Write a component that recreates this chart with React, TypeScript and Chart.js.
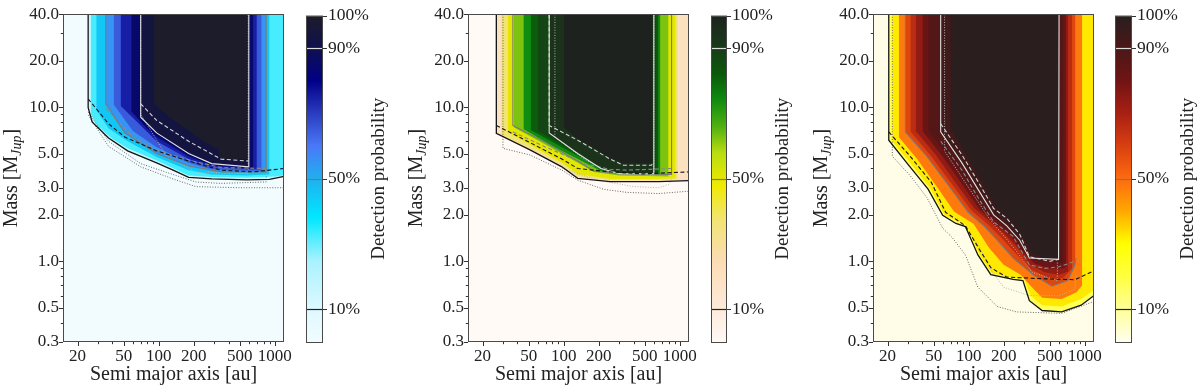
import React, { useEffect, useRef } from 'react';
import { Chart, registerables } from 'chart.js';

Chart.register(...registerables);

type Pt = [number, number];
type Stop = [number, string];

// ---------------- axes ----------------
const xMajorTicks = [20, 50, 100, 200, 500, 1000];
const xMinorTicks = [30, 40, 60, 70, 80, 90, 300, 400, 600, 700, 800, 900];
const yMajorTicks = [0.3, 0.5, 1, 2, 3, 5, 10, 20, 40];
const yMinorTicks = [0.4, 0.6, 0.7, 0.8, 0.9, 4, 6, 7, 8, 9, 30];
const xRange = [15, 1200];
const yRange = [0.3, 40];
const cbTicks = [10, 50, 90, 100];
const cbContours = [10, 50, 90];

const xTitle = 'Semi major axis [au]';
const yTitleMain = 'Mass [M';
const yTitleSub = 'Jup';
const cbTitle = 'Detection probability';

// ---------------- colormaps ----------------
const blueMap: Stop[] = [[0, '#f2fcff'], [0.1, '#def9ff'], [0.25, '#a8f2ff'], [0.38, '#00e8ff'], [0.5, '#1fb0f0'], [0.6, '#4a78f8'], [0.7, '#2a3cc0'], [0.8, '#000088'], [0.9, '#10104e'], [1, '#1c1c2a']];
const greenMap: Stop[] = [[0, '#fff9f5'], [0.12, '#fde8d6'], [0.25, '#fcdcb4'], [0.38, '#f2e470'], [0.48, '#f0ea00'], [0.58, '#b8dc10'], [0.66, '#50b010'], [0.74, '#108c10'], [0.82, '#0a5a0a'], [0.9, '#183c18'], [1, '#1e221e']];
const hotMap: Stop[] = [[0, '#fffff0'], [0.1, '#ffff98'], [0.2, '#ffff40'], [0.3, '#ffff00'], [0.4, '#ffa800'], [0.5, '#ff6a10'], [0.6, '#d84010'], [0.7, '#a82014'], [0.8, '#701414'], [0.9, '#4a1818'], [1, '#2a1e1e']];

// ---------------- panel 1 (blue) ----------------
const blueLevels = [10, 25, 40, 50, 60, 70, 80, 90, 97];
const blueL10: Pt[] = [[24.7, 40], [24.7, 9.9], [26.7, 8.0], [37, 6.3], [54, 5.2], [96, 4.35], [133, 3.9], [181, 3.5], [286, 3.42], [572, 3.37], [900, 3.4], [1300, 3.58], [1300, 40]];
const blueL25: Pt[] = [[26, 40], [26, 9.0], [30, 7.5], [40, 6.2], [54, 5.4], [96, 4.5], [133, 4.02], [181, 3.6], [286, 3.52], [572, 3.48], [1000, 3.55], [1300, 3.65], [1300, 40]];
const blueL40: Pt[] = [[29, 40], [29, 9.6], [37, 7.3], [54, 6.0], [96, 4.75], [181, 3.9], [286, 3.65], [572, 3.6], [900, 3.65], [900, 40]];
const blueL50: Pt[] = [[35, 40], [35, 10.5], [51, 6.8], [96, 5.0], [181, 4.15], [344, 3.8], [843, 3.8], [843, 40]];
const blueL60: Pt[] = [[41, 40], [41, 10.4], [60, 7.0], [96, 5.5], [181, 4.35], [286, 3.95], [572, 3.87], [770, 3.87], [770, 40]];
const blueL70: Pt[] = [[47, 40], [47, 10.2], [70, 7.6], [96, 6.0], [181, 4.6], [286, 4.1], [572, 3.95], [700, 3.95], [700, 40]];
const blueL80: Pt[] = [[58, 40], [58, 9.4], [80, 7.2], [96, 6.4], [181, 4.8], [286, 4.2], [572, 4.02], [650, 4.02], [650, 40]];
const blueL90: Pt[] = [[70, 40], [70, 8.6], [96, 6.8], [181, 5.0], [286, 4.3], [597, 4.1], [597, 40]];
const blueL97: Pt[] = [[91, 40], [91, 10.5], [124, 8.6], [236, 6.1], [325, 5.3], [344, 4.6], [590, 4.6], [590, 40]];

const blueBlackSolid: Pt[] = [[24.7, 40], [24.7, 9.9], [26.7, 8.0], [37, 6.3], [54, 5.2], [96, 4.35], [133, 3.9], [181, 3.5], [286, 3.42], [572, 3.37], [900, 3.4], [1200, 3.55]];
const blueBlackDashed: Pt[] = [[24.7, 11.3], [37, 7.8], [51, 6.4], [96, 5.2], [181, 4.47], [344, 3.9], [656, 3.8], [1200, 4.0]];
const blueGreySolid: Pt[] = [[35, 40], [35, 10.5], [51, 6.8], [96, 5.0], [181, 4.15], [344, 3.8], [843, 3.8], [843, 40]];
const blueGreyDashed: Pt[] = [[35, 9.8], [60, 6.4], [100, 5.2], [200, 4.45], [350, 4.05], [843, 4.0]];
const blueWhiteSolid: Pt[] = [[70, 40], [70, 8.6], [96, 6.8], [181, 5.0], [286, 4.3], [597, 4.1], [597, 40]];
const blueWhiteDashed: Pt[] = [[70, 10.5], [96, 8.2], [181, 6.0], [344, 4.6], [590, 4.47]];
const blueDottedA: Pt[] = [[24.7, 9.3], [37, 6.0], [70, 4.3], [117, 3.77], [209, 3.27], [344, 3.2], [843, 3.27], [843, 3.6]];
const blueDottedB: Pt[] = [[24.7, 8.9], [37, 5.56], [70, 4.1], [133, 3.42], [209, 3.05], [500, 3.0], [1200, 3.0]];
const blueDottedLight: Pt[] = [[70, 40], [70, 9.0], [117, 4.8], [209, 3.8], [590, 3.7], [590, 40]];

// ---------------- panel 2 (green) ----------------
const greenLevels = [10, 30, 45, 55, 70, 78, 85, 90, 97];
const greenL10: Pt[] = [[26.3, 40], [26.3, 6.76], [50.8, 5.3], [96.5, 4.1], [132, 3.45], [251, 3.29], [657, 3.29], [1300, 3.34], [1300, 40]];
const greenL30: Pt[] = [[29, 40], [29, 6.6], [50.8, 5.4], [96.5, 4.22], [132, 3.56], [251, 3.36], [657, 3.36], [960, 3.4], [960, 40]];
const greenL45: Pt[] = [[33, 40], [33, 6.9], [60, 5.35], [96.5, 4.35], [132, 3.68], [251, 3.42], [657, 3.42], [920, 3.45], [920, 40]];
const greenL55: Pt[] = [[37, 40], [37, 7.4], [70, 5.7], [132, 4.35], [182, 3.8], [300, 3.6], [800, 3.55], [800, 40]];
const greenL70: Pt[] = [[45, 40], [45, 7.2], [80, 5.6], [132, 4.6], [209, 3.85], [400, 3.66], [680, 3.66], [680, 40]];
const greenL78: Pt[] = [[52, 40], [52, 7.1], [100, 5.4], [150, 4.6], [209, 3.92], [400, 3.68], [655, 3.68], [655, 40]];
const greenL85: Pt[] = [[60, 40], [60, 7.0], [132, 5.0], [209, 4.0], [305, 3.72], [630, 3.7], [630, 40]];
const greenL90: Pt[] = [[75, 40], [75, 6.8], [132, 5.0], [209, 4.0], [305, 3.7], [597, 3.7], [597, 40]];
const greenL97: Pt[] = [[100, 40], [100, 7.4], [132, 6.2], [251, 4.7], [326, 4.3], [580, 4.3], [580, 40]];

const greenBlackSolid: Pt[] = [[26.3, 40], [26.3, 6.76], [50.8, 5.3], [96.5, 4.1], [132, 3.45], [251, 3.29], [657, 3.29], [1200, 3.34]];
const greenBlackDashed: Pt[] = [[26.3, 7.6], [51, 5.9], [96.5, 4.6], [132, 4.0], [251, 3.8], [474, 3.69], [1200, 3.8]];
const greenGreySolid: Pt[] = [[36.5, 40], [36.5, 7.6], [70, 5.9], [132, 4.47], [182, 3.85], [300, 3.68], [849, 3.66], [849, 40]];
const greenGreyDashed: Pt[] = [[36.5, 6.9], [70, 5.5], [150, 4.3], [250, 3.95], [348, 3.9], [849, 4.0]];
const greenWhiteSolid: Pt[] = [[75, 40], [75, 6.8], [132, 5.0], [209, 4.0], [305, 3.7], [597, 3.7], [597, 40]];
const greenWhiteDashed: Pt[] = [[75, 40], [75, 7.6], [132, 6.1], [251, 4.6], [326, 4.2], [570, 4.2], [590, 4.4]];
const greenDottedA: Pt[] = [[30, 40], [30, 5.4], [51, 4.9], [96.5, 3.9], [132, 3.36], [221, 2.93], [348, 2.8], [657, 2.75], [1200, 2.85]];
const greenDottedB: Pt[] = [[96.5, 4.0], [200, 3.35], [400, 3.05], [657, 3.0], [800, 3.15], [849, 3.4]];
const greenDottedLight: Pt[] = [[84, 40], [84, 6.4], [150, 4.6], [250, 3.75], [600, 3.6], [600, 40]];

// ---------------- panel 3 (hot) ----------------
const hotLevels = [10, 25, 40, 55, 62, 70, 78, 85, 90, 97];
const hotL10: Pt[] = [[20.5, 40], [20.5, 6.1], [29.3, 4.35], [44.7, 2.94], [59.7, 1.99], [77.6, 1.76], [93.7, 1.68], [120, 1.1], [155, 0.82], [241, 0.765], [293, 0.75], [333, 0.556], [429, 0.48], [632, 0.47], [929, 0.52], [1300, 0.62], [1300, 40]];
const hotL25: Pt[] = [[22, 40], [22, 6.0], [31, 4.4], [47, 2.95], [62, 2.0], [95, 1.72], [123, 1.12], [158, 0.84], [241, 0.78], [300, 0.77], [340, 0.6], [429, 0.52], [632, 0.51], [929, 0.57], [1300, 0.68], [1300, 40]];
const hotL40: Pt[] = [[25, 40], [25, 6.4], [36, 4.6], [54, 3.0], [75, 2.1], [110, 1.75], [150, 1.22], [200, 0.95], [280, 0.82], [350, 0.68], [429, 0.58], [632, 0.57], [850, 0.63], [950, 0.7], [950, 40]];
const hotL55: Pt[] = [[28.5, 40], [28.5, 6.9], [43.5, 4.8], [67, 3.1], [99, 2.08], [137, 1.68], [176, 1.37], [241, 1.05], [357, 0.82], [521, 0.69], [715, 0.75], [830, 0.95], [830, 40]];
const hotL62: Pt[] = [[31.5, 40], [31.5, 6.95], [47, 4.85], [72, 3.15], [105, 2.14], [148, 1.72], [190, 1.43], [255, 1.12], [350, 0.88], [500, 0.77], [650, 0.78], [775, 0.9], [775, 40]];
const hotL70: Pt[] = [[35, 40], [35, 7.0], [52, 4.9], [78, 3.2], [112, 2.2], [160, 1.75], [205, 1.5], [270, 1.2], [340, 0.95], [450, 0.85], [600, 0.82], [720, 0.86], [720, 40]];
const hotL78: Pt[] = [[40, 40], [40, 7.0], [60, 4.75], [88, 3.15], [125, 2.15], [175, 1.75], [228, 1.47], [285, 1.17], [370, 0.97], [500, 0.9], [640, 0.9], [690, 0.92], [690, 40]];
const hotL85: Pt[] = [[45, 40], [45, 7.0], [70, 4.6], [100, 3.1], [140, 2.1], [190, 1.75], [250, 1.45], [300, 1.15], [400, 1.0], [650, 0.98], [650, 40]];
const hotL90: Pt[] = [[57.4, 40], [57.4, 6.9], [87.4, 4.35], [120, 2.94], [164, 2.0], [213, 1.7], [275, 1.37], [333, 1.05], [600, 1.03], [600, 40]];
const hotL97: Pt[] = [[70, 40], [70, 7.2], [100, 4.6], [135, 3.1], [175, 2.2], [230, 1.8], [290, 1.45], [360, 1.12], [500, 1.02], [590, 1.05], [590, 40]];

const hotBlackSolid: Pt[] = [[20.5, 40], [20.5, 6.1], [29.3, 4.35], [44.7, 2.94], [59.7, 1.99], [77.6, 1.76], [93.7, 1.68], [120, 1.1], [155, 0.82], [241, 0.765], [293, 0.75], [333, 0.556], [429, 0.48], [632, 0.47], [929, 0.52], [1200, 0.6]];
const hotBlackDashed: Pt[] = [[20.5, 6.9], [31.3, 4.8], [47.6, 3.26], [63.3, 2.08], [93.7, 1.7], [124, 1.19], [155, 0.91], [213, 0.79], [459, 0.77], [820, 0.76], [1200, 0.87]];
const hotGreySolid: Pt[] = [[28.5, 40], [28.5, 6.9], [43.5, 4.8], [67, 3.1], [99, 2.08], [137, 1.68], [176, 1.37], [241, 1.05], [357, 0.82], [521, 0.69], [715, 0.75], [820, 0.95], [840, 1.05]];
const hotGreyDashed: Pt[] = [[57.4, 6.0], [87.4, 3.9], [120, 2.6], [164, 1.8], [241, 1.45], [333, 0.95], [450, 0.9], [594, 0.92], [820, 1.0]];
const hotWhiteSolid: Pt[] = [[57.4, 40], [57.4, 6.9], [87.4, 4.35], [120, 2.94], [164, 2.0], [213, 1.7], [275, 1.37], [333, 1.05], [594, 1.03], [600, 40]];
const hotWhiteDashed: Pt[] = [[57.4, 7.8], [87.4, 4.9], [120, 3.3], [164, 2.2], [213, 1.9], [275, 1.5], [333, 1.07], [500, 1.0], [594, 1.03]];
const hotDottedA: Pt[] = [[22, 40], [22, 4.8], [31.3, 3.6], [43.5, 2.6], [59.7, 1.64], [72, 1.43], [93.7, 1.1], [120, 0.68], [176, 0.51], [258, 0.47], [632, 0.46], [1200, 0.55]];
const hotDottedB: Pt[] = [[80, 1.9], [120, 1.3], [160, 0.85], [200, 0.68], [333, 0.6], [600, 0.6], [820, 0.66], [843, 0.8]];
const hotDottedLight: Pt[] = [[62, 40], [62, 5.2], [100, 3.0], [150, 1.9], [250, 1.2], [350, 0.85], [580, 0.75], [580, 1.0]];

// ---------------- styles ----------------
const FONT = "'Liberation Serif', 'Times New Roman', serif";
const lineStyles: Record<string, { color: string; width: number; dash: number[] }> = {
  blackSolid: { color: '#141414', width: 1.3, dash: [] },
  blackDashed: { color: '#141414', width: 1.1, dash: [4, 2.5] },
  greySolid: { color: '#7a7a7a', width: 1.1, dash: [] },
  greyDashed: { color: '#8a8a8a', width: 1.1, dash: [4, 2.5] },
  whiteSolid: { color: '#e2e2e2', width: 1.1, dash: [] },
  whiteDashed: { color: '#d4d4d4', width: 1.1, dash: [4, 2.5] },
  dotted: { color: '#666666', width: 1, dash: [1, 1.6] },
  dottedLight: { color: '#b4b4b4', width: 1, dash: [1, 1.6] },
};
const cbLineColors = ['#222222', '#777777', '#dddddd'];

type Panel = {
  base: number; plotLeft: number; plotRight: number; cbLeft: number; cbRight: number; cbCanvasRight: number;
  bg: string; map: Stop[]; levels: number[]; polys: Pt[][];
  lines: { pts: Pt[]; style: string }[];
};

const panels: Panel[] = [
  {
    base: 0, plotLeft: 63, plotRight: 292, cbLeft: 306, cbRight: 323, cbCanvasRight: 398,
    bg: '#f2fcff', map: blueMap, levels: blueLevels,
    polys: [blueL10, blueL25, blueL40, blueL50, blueL60, blueL70, blueL80, blueL90, blueL97],
    lines: [
      { pts: blueBlackSolid, style: 'blackSolid' }, { pts: blueBlackDashed, style: 'blackDashed' },
      { pts: blueWhiteSolid, style: 'whiteSolid' }, { pts: blueWhiteDashed, style: 'whiteDashed' },
      { pts: blueGreySolid, style: 'greySolid' }, { pts: blueGreyDashed, style: 'greyDashed' },
      { pts: blueDottedA, style: 'dotted' }, { pts: blueDottedB, style: 'dotted' }, { pts: blueDottedLight, style: 'dottedLight' },
    ],
  },
  {
    base: 400, plotLeft: 468, plotRight: 697, cbLeft: 711, cbRight: 727, cbCanvasRight: 800,
    bg: '#fffaf6', map: greenMap, levels: greenLevels,
    polys: [greenL10, greenL30, greenL45, greenL55, greenL70, greenL78, greenL85, greenL90, greenL97],
    lines: [
      { pts: greenBlackSolid, style: 'blackSolid' }, { pts: greenBlackDashed, style: 'blackDashed' },
      { pts: greenWhiteSolid, style: 'whiteSolid' }, { pts: greenWhiteDashed, style: 'whiteDashed' },
      { pts: greenGreySolid, style: 'greySolid' }, { pts: greenGreyDashed, style: 'greyDashed' },
      { pts: greenDottedA, style: 'dotted' }, { pts: greenDottedB, style: 'dottedLight' }, { pts: greenDottedLight, style: 'dottedLight' },
    ],
  },
  {
    base: 800, plotLeft: 873, plotRight: 1102, cbLeft: 1115, cbRight: 1132, cbCanvasRight: 1200,
    bg: '#fffde8', map: hotMap, levels: hotLevels,
    polys: [hotL10, hotL25, hotL40, hotL55, hotL62, hotL70, hotL78, hotL85, hotL90, hotL97],
    lines: [
      { pts: hotBlackSolid, style: 'blackSolid' }, { pts: hotBlackDashed, style: 'blackDashed' },
      { pts: hotWhiteSolid, style: 'whiteSolid' }, { pts: hotWhiteDashed, style: 'whiteDashed' },
      { pts: hotGreySolid, style: 'greySolid' }, { pts: hotGreyDashed, style: 'greyDashed' },
      { pts: hotDottedA, style: 'dotted' }, { pts: hotDottedB, style: 'dottedLight' }, { pts: hotDottedLight, style: 'dottedLight' },
    ],
  },
];

const H = 391;
const PLOT_TOP = 9;
const PLOT_BOTTOM = 342;

function hexRgb(h: string) {
  const n = parseInt(h.slice(1), 16);
  return [(n >> 16) & 255, (n >> 8) & 255, n & 255];
}
function cmap(stops: Stop[], t: number) {
  if (t <= stops[0][0]) return stops[0][1];
  for (let i = 1; i < stops.length; i++) {
    if (t <= stops[i][0]) {
      const [t0, c0] = stops[i - 1];
      const [t1, c1] = stops[i];
      const f = (t - t0) / (t1 - t0);
      const a = hexRgb(c0), b = hexRgb(c1);
      const c = a.map((v, k) => Math.round(v + (b[k] - v) * f));
      return `rgb(${c[0]},${c[1]},${c[2]})`;
    }
  }
  return stops[stops.length - 1][1];
}

function makeMain(canvas: HTMLCanvasElement, p: Panel) {
  const width = p.plotRight - p.base + 4;
  canvas.width = width;
  canvas.height = H;
  const datasets: any[] = [];
  p.lines.forEach((l) => {
    const s = lineStyles[l.style];
    datasets.push({
      data: l.pts.map(([x, y]) => ({ x, y })),
      borderColor: s.color, borderWidth: s.width, borderDash: s.dash,
      pointRadius: 0, fill: false, tension: 0, order: 0,
    });
  });
  p.polys.forEach((poly, i) => {
    const next = p.levels[i + 1];
    const t = next === undefined ? 1 : (p.levels[i] + next) / 200;
    datasets.push({
      data: poly.map(([x, y]) => ({ x, y })),
      backgroundColor: cmap(p.map, t), borderColor: 'rgba(0,0,0,0)', borderWidth: 0,
      pointRadius: 0, fill: 'end', tension: 0, order: 100 - i,
    });
  });
  const decor = {
    id: 'mainDecor',
    beforeDatasetsDraw(chart: any) {
      const { ctx, chartArea: a } = chart;
      ctx.save();
      ctx.fillStyle = p.bg;
      ctx.fillRect(a.left, a.top, a.right - a.left, a.bottom - a.top);
      ctx.restore();
    },
    afterDraw(chart: any) {
      const { ctx, chartArea: a, scales } = chart;
      const xs = scales.x, ys = scales.y;
      ctx.save();
      ctx.strokeStyle = '#4a4a4a';
      ctx.lineWidth = 1;
      ctx.strokeRect(Math.round(a.left) + 0.5, Math.round(a.top) + 0.5, Math.round(a.right - a.left) - 1, Math.round(a.bottom - a.top) - 1);
      ctx.strokeStyle = '#333';
      const tick = (x1: number, y1: number, x2: number, y2: number) => { ctx.beginPath(); ctx.moveTo(x1, y1); ctx.lineTo(x2, y2); ctx.stroke(); };
      xMajorTicks.forEach((v) => { const x = Math.round(xs.getPixelForValue(v)) + 0.5; tick(x, a.bottom, x, a.bottom + 4); });
      xMinorTicks.forEach((v) => { const x = Math.round(xs.getPixelForValue(v)) + 0.5; tick(x, a.bottom, x, a.bottom + 2.2); });
      yMajorTicks.forEach((v) => { const y = Math.round(ys.getPixelForValue(v)) + 0.5; tick(a.left, y, a.left - 4, y); });
      yMinorTicks.forEach((v) => { const y = Math.round(ys.getPixelForValue(v)) + 0.5; tick(a.left, y, a.left - 2.2, y); });
      // x title
      ctx.fillStyle = '#222';
      ctx.font = `20px ${FONT}`;
      ctx.textAlign = 'center';
      ctx.textBaseline = 'middle';
      ctx.fillText(xTitle, (a.left + a.right) / 2, 375);
      // y title with subscript
      ctx.translate(a.left - 51, (a.top + a.bottom) / 2);
      ctx.rotate(-Math.PI / 2);
      ctx.textAlign = 'left';
      ctx.textBaseline = 'middle';
      ctx.font = `20px ${FONT}`;
      const w1 = ctx.measureText(yTitleMain).width;
      const w3 = ctx.measureText(']').width;
      ctx.font = `italic 14px ${FONT}`;
      const w2 = ctx.measureText(yTitleSub).width;
      const start = -(w1 + w2 + w3) / 2;
      ctx.font = `20px ${FONT}`;
      ctx.fillText(yTitleMain, start, 0);
      ctx.font = `italic 14px ${FONT}`;
      ctx.fillText(yTitleSub, start + w1, 5);
      ctx.font = `20px ${FONT}`;
      ctx.fillText(']', start + w1 + w2, 0);
      ctx.restore();
    },
  };
  return new Chart(canvas, {
    type: 'line',
    data: { datasets },
    plugins: [decor],
    options: {
      animation: false, responsive: false, maintainAspectRatio: false, devicePixelRatio: 1, events: [],
      layout: { padding: { top: PLOT_TOP, right: 4, left: 0, bottom: 0 } },
      plugins: { legend: { display: false }, tooltip: { enabled: false } },
      scales: {
        x: {
          type: 'logarithmic', min: xRange[0], max: xRange[1],
          grid: { display: false, drawTicks: false }, border: { display: false },
          afterBuildTicks: (s: any) => { s.ticks = xMajorTicks.map((v) => ({ value: v })); },
          afterFit: (s: any) => { s.height = H - PLOT_BOTTOM; },
          ticks: { autoSkip: false, maxRotation: 0, minRotation: 0, padding: 4, color: '#222', font: { family: FONT, size: 17 }, callback: (v: any) => String(v) },
        },
        y: {
          type: 'logarithmic', min: yRange[0], max: yRange[1],
          grid: { display: false, drawTicks: false }, border: { display: false },
          afterBuildTicks: (s: any) => { s.ticks = yMajorTicks.map((v) => ({ value: v })); },
          afterFit: (s: any) => { s.width = p.plotLeft - p.base; },
          ticks: { autoSkip: false, padding: 4, color: '#222', font: { family: FONT, size: 17 }, callback: (v: any) => Number(v).toFixed(1) },
        },
      },
    } as any,
  });
}

function makeColorbar(canvas: HTMLCanvasElement, p: Panel) {
  const left = p.cbLeft - 6;
  const width = p.cbCanvasRight - left;
  const cbW = p.cbRight - p.cbLeft;
  canvas.width = width;
  canvas.height = H;
  const decor = {
    id: 'cbDecor',
    afterDraw(chart: any) {
      const { ctx, chartArea: a, scales } = chart;
      const ys = scales.y;
      ctx.save();
      cbContours.forEach((v, i) => {
        const y = Math.round(ys.getPixelForValue(v)) + 0.5;
        ctx.strokeStyle = cbLineColors[i];
        ctx.lineWidth = 1.2;
        ctx.beginPath(); ctx.moveTo(a.left, y); ctx.lineTo(a.right, y); ctx.stroke();
      });
      ctx.strokeStyle = '#4a4a4a';
      ctx.lineWidth = 1;
      ctx.strokeRect(Math.round(a.left) + 0.5, Math.round(a.top) + 0.5, Math.round(a.right - a.left) - 1, Math.round(a.bottom - a.top) - 1);
      ctx.strokeStyle = '#333';
      cbTicks.forEach((v) => {
        const y = Math.round(ys.getPixelForValue(v)) + 0.5;
        ctx.beginPath(); ctx.moveTo(a.right, y); ctx.lineTo(a.right + 4, y); ctx.stroke();
      });
      ctx.fillStyle = '#222';
      ctx.font = `19px ${FONT}`;
      ctx.translate(a.right + 56, (a.top + a.bottom) / 2);
      ctx.rotate(-Math.PI / 2);
      ctx.textAlign = 'center';
      ctx.textBaseline = 'middle';
      ctx.fillText(cbTitle, 0, 0);
      ctx.restore();
    },
  };
  return new Chart(canvas, {
    type: 'bar',
    data: {
      labels: [''],
      datasets: [{
        data: [[0, 100]],
        grouped: false, barPercentage: 1, categoryPercentage: 1, borderWidth: 0,
        backgroundColor: (c: any) => {
          const { ctx, chartArea } = c.chart;
          if (!chartArea) return p.map[0][1];
          const g = ctx.createLinearGradient(0, chartArea.bottom, 0, chartArea.top);
          p.map.forEach(([t, col]) => g.addColorStop(t, col));
          return g;
        },
      }],
    },
    plugins: [decor],
    options: {
      animation: false, responsive: false, maintainAspectRatio: false, devicePixelRatio: 1, events: [],
      layout: { padding: { top: PLOT_TOP, right: 0, left: 6, bottom: H - PLOT_BOTTOM } },
      plugins: { legend: { display: false }, tooltip: { enabled: false } },
      scales: {
        x: { type: 'category', display: false },
        y: {
          type: 'linear', position: 'right', min: 0, max: 100,
          grid: { display: false, drawTicks: false }, border: { display: false },
          afterBuildTicks: (s: any) => { s.ticks = cbTicks.map((v) => ({ value: v })); },
          afterFit: (s: any) => { s.width = width - 6 - cbW; },
          ticks: { autoSkip: false, padding: 5, color: '#222', font: { family: FONT, size: 17.5 }, callback: (v: any) => `${v}%` },
        },
      },
    } as any,
  });
}

export default function App() {
  const mainRefs = [useRef<HTMLCanvasElement>(null), useRef<HTMLCanvasElement>(null), useRef<HTMLCanvasElement>(null)];
  const cbRefs = [useRef<HTMLCanvasElement>(null), useRef<HTMLCanvasElement>(null), useRef<HTMLCanvasElement>(null)];
  useEffect(() => {
    const charts: Chart[] = [];
    panels.forEach((p, i) => {
      if (mainRefs[i].current) charts.push(makeMain(mainRefs[i].current!, p));
      if (cbRefs[i].current) charts.push(makeColorbar(cbRefs[i].current!, p));
    });
    return () => charts.forEach((c) => c.destroy());
  }, []);
  return (
    <div style={{ position: 'fixed', left: 0, top: 0, width: 1200, height: H, background: '#ffffff', overflow: 'hidden' }}>
      {panels.map((p, i) => (
        <React.Fragment key={i}>
          <canvas ref={mainRefs[i]} style={{ position: 'absolute', left: p.base, top: 0 }} />
          <canvas ref={cbRefs[i]} style={{ position: 'absolute', left: p.cbLeft - 6, top: 0 }} />
        </React.Fragment>
      ))}
    </div>
  );
}
